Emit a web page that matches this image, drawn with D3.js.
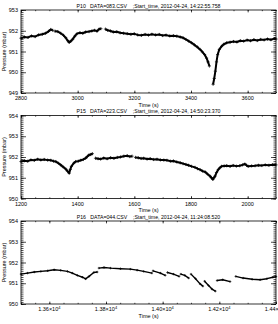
<!DOCTYPE html>
<html>
<head>
<meta charset="utf-8">
<script src="https://cdn.jsdelivr.net/npm/d3@7"></script>
<style>
  body { margin: 0; background: #fff; }
  svg text { font-family: "Liberation Sans", Arial, sans-serif; fill: #000; }
</style>
</head>
<body>
<div id="draw"></div>
<script>
// panel titles and axis setup
var titles = [
    "P10   DATA=083.CSV    ;Start_time, 2012-04-24, 14:22:55.758",
    "P15   DATA=223.CSV    ;Start_time, 2012-04-24, 14:50:23.370",
    "P16   DATA=044.CSV    ;Start_time, 2012-04-24, 11:24:08.520"
];
var xDomains = [[2800, 3700], [1200, 2100], [13500, 14400]];
var yDomains = [[949, 953], [950, 954], [950, 954]];
var xTickValues = [
    [2800, 3000, 3200, 3400, 3600],
    [1200, 1400, 1600, 1800, 2000],
    [13600, 13800, 14000, 14200, 14400]
];
var yTickValues = [
    [949, 950, 951, 952, 953],
    [950, 951, 952, 953, 954],
    [950, 951, 952, 953, 954]
];

// pressure records [time (s), mbar]; null marks a break in the record
var p10 = [
    [2800, 951.64], [2812, 951.70], [2825, 951.68], [2837, 951.75], [2850, 951.72],
    [2862, 951.80], [2875, 951.83], [2887, 951.88], [2897, 951.97], [2905, 952.06],
    [2912, 952.02], [2916, null], [2920, 951.98], [2930, 951.96], [2940, 951.88],
    [2950, 951.78], [2958, 951.66], [2965, 951.52], [2970, 951.44], [2976, 951.50],
    [2983, 951.60], [2990, 951.74], [2998, 951.86], [3008, 951.90], [3018, 951.88],
    [3028, 951.94], [3040, 951.96], [3050, 951.99], [3060, 952.02], [3068, 951.98],
    [3076, 952.08], [3082, 952.10], [3090, null], [3098, 952.08], [3106, 952.02],
    [3116, 951.99], [3126, 951.94], [3138, 951.95], [3150, 951.90], [3162, 951.88],
    [3175, 951.86], [3188, 951.83], [3200, 951.85], [3212, 951.80], [3225, 951.78],
    [3238, 951.82], [3250, 951.79], [3262, 951.83], [3275, 951.80], [3288, 951.82],
    [3300, 951.77], [3312, 951.79], [3325, 951.75], [3338, 951.76], [3350, 951.74],
    [3362, 951.70], [3372, 951.66], [3382, 951.58], [3392, 951.50], [3402, 951.42],
    [3412, 951.32], [3422, 951.22], [3432, 951.10], [3440, 950.98], [3448, 950.85],
    [3455, 950.68], [3460, 950.50], [3465, 950.30], [3470, null], [3478, 949.42],
    [3482, 949.70], [3486, 950.05], [3490, 950.50], [3494, 950.85], [3500, 951.10],
    [3508, 951.25], [3516, 951.35], [3526, 951.42], [3538, 951.45], [3550, 951.48],
    [3562, 951.46], [3574, 951.52], [3586, 951.50], [3598, 951.55], [3610, 951.52],
    [3622, 951.57], [3634, 951.53], [3646, 951.58], [3658, 951.56], [3670, 951.60],
    [3682, 951.57], [3694, 951.62], [3700, 951.60]
];
var p15 = [
    [1200, 951.78], [1212, 951.82], [1224, 951.80], [1235, 951.86], [1247, 951.84],
    [1259, 951.89], [1270, 951.86], [1282, 951.88], [1294, 951.85], [1305, 951.84],
    [1315, 951.80], [1323, 951.78], [1332, 951.70], [1340, 951.62], [1349, 951.52],
    [1358, 951.42], [1364, 951.32], [1370, 951.22], [1374, 951.40], [1378, 951.55],
    [1386, 951.70], [1393, 951.78], [1402, 951.80], [1411, 951.84], [1420, 951.88],
    [1428, 951.94], [1434, 952.02], [1440, 952.10], [1446, 952.12], [1452, 952.16],
    [1458, null], [1463, 951.94], [1472, 951.92], [1481, 951.90], [1492, 951.95],
    [1504, 951.92], [1516, 951.96], [1528, 951.94], [1540, 951.98], [1551, 952.00],
    [1563, 952.04], [1575, 952.06], [1584, 952.02], [1592, 952.04], [1598, null],
    [1604, 951.98], [1614, 951.96], [1624, 951.93], [1633, 951.94], [1645, 951.90],
    [1656, 951.92], [1668, 951.88], [1680, 951.89], [1692, 951.86], [1704, 951.85],
    [1715, 951.84], [1727, 951.80], [1738, 951.81], [1750, 951.76], [1762, 951.72],
    [1772, 951.68], [1782, 951.64], [1791, 951.60], [1802, 951.55], [1814, 951.50],
    [1823, 951.44], [1832, 951.39], [1841, 951.32], [1850, 951.28], [1858, 951.18],
    [1867, 951.08], [1872, 951.00], [1877, 950.92], [1881, 951.00], [1885, 951.08],
    [1890, 951.25], [1896, 951.39], [1902, 951.48], [1908, 951.55], [1917, 951.57],
    [1926, 951.58], [1938, 951.55], [1949, 951.59], [1960, 951.56], [1972, 951.58],
    [1982, 951.62], [1990, 951.66], [1996, 951.60], [2002, 951.55], [2014, 951.57],
    [2026, 951.58], [2038, 951.60], [2050, 951.59], [2062, 951.62], [2075, 951.60],
    [2088, 951.63], [2100, 951.62]
];
var p16 = [
    [13500, 951.44], [13523, 951.49], [13547, 951.54], [13570, 951.57], [13594, 951.60],
    [13617, 951.65], [13640, 951.62], [13664, 951.57], [13681, 951.49], [13699, 951.38],
    [13717, 951.29], [13728, 951.21], [13740, 951.33], [13757, 951.52], [13769, 951.54],
    [13772, null],
    [13775, 951.73], [13793, 951.76], [13816, 951.73], [13851, 951.70], [13886, 951.68],
    [13910, 951.63], [13933, 951.57], [13962, 951.49], [13964, null],
    [13966, 951.60], [13992, 951.49], [14009, 951.38], [14013, null],
    [14017, 951.52], [14038, 951.44], [14058, 951.33], [14061, null],
    [14064, 951.44], [14078, 951.38], [14092, 951.25], [14096, null],
    [14100, 951.44], [14116, 951.22], [14132, 950.97], [14142, 950.86], [14145, null],
    [14148, 951.10], [14162, 950.89], [14174, 950.72], [14186, 950.62], [14188, null],
    [14192, 951.13], [14212, 951.17], [14238, 951.08], [14248, null],
    [14258, 951.33], [14284, 951.25], [14316, 951.19], [14344, 951.17], [14368, 951.22],
    [14389, 951.29], [14400, 951.32]
];
var series = [p10, p15, p16];

var width = 278,
    height = 324,
    left = 21,
    right = 276,
    panelTop = 10,
    panelStep = 105.5,
    panelHeight = 83;

var svg = d3.select('#draw').append('svg')
    .attr('width', width)
    .attr('height', height);

function sciLabel(sel, v) {
    // 13600 -> 1.36x10^4
    var m = (v / 10000).toFixed(2);
    sel.text(m + '\u00d710');
    sel.append('tspan').attr('dy', -2.5).attr('font-size', '4px').text('4');
}

series.forEach(function (data, i) {
    var top = panelTop + i * panelStep,
        bottom = top + panelHeight,
        g = svg.append('g');

    var x = d3.scaleLinear().domain(xDomains[i]).range([left, right]),
        y = d3.scaleLinear().domain(yDomains[i]).range([bottom, top]);

    var xMinor = d3.range(xDomains[i][0], xDomains[i][1] + 1, 50),
        yMinor = d3.range(yDomains[i][0] * 10, yDomains[i][1] * 10 + 1).map(function (d) { return d / 10; });

    // inward ticks on all four sides
    function ticks(axis, vals, size) {
        return axis.tickValues(vals).tickSize(size).tickFormat('');
    }
    var layers = [
        [d3.axisBottom(x), xMinor, -1.2, bottom],
        [d3.axisBottom(x), xTickValues[i], -2.4, bottom],
        [d3.axisTop(x), xMinor, -1.2, top],
        [d3.axisTop(x), xTickValues[i], -2.4, top]
    ];
    layers.forEach(function (l) {
        g.append('g').attr('transform', 'translate(0,' + l[3] + ')')
            .call(ticks(l[0], l[1], l[2]))
            .call(function (s) { s.select('.domain').remove(); });
    });
    var ylayers = [
        [d3.axisLeft(y), yMinor, -2.5, left],
        [d3.axisLeft(y), yTickValues[i], -5, left],
        [d3.axisRight(y), yMinor, -2.5, right],
        [d3.axisRight(y), yTickValues[i], -5, right]
    ];
    ylayers.forEach(function (l) {
        g.append('g').attr('transform', 'translate(' + l[3] + ',0)')
            .call(ticks(l[0], l[1], l[2]))
            .call(function (s) { s.select('.domain').remove(); });
    });
    g.selectAll('.tick line').attr('stroke', '#000').attr('stroke-width', 0.7);

    // frame
    g.append('rect')
        .attr('x', left).attr('y', top)
        .attr('width', right - left).attr('height', bottom - top)
        .attr('fill', 'none').attr('stroke', '#000').attr('stroke-width', 0.8);

    // tick labels
    g.selectAll('.xl').data(xTickValues[i]).enter().append('text')
        .attr('x', function (d) { return x(d); })
        .attr('y', bottom + 7)
        .attr('text-anchor', 'middle')
        .attr('font-size', '5.5px')
        .each(function (d) {
            if (i === 2) {
                sciLabel(d3.select(this), d);
            } else {
                d3.select(this).text(d);
            }
        });
    g.selectAll('.yl').data(yTickValues[i]).enter().append('text')
        .attr('x', left - 3)
        .attr('y', function (d) { return y(d) + 2; })
        .attr('text-anchor', 'end')
        .attr('font-size', '5.5px')
        .text(function (d) { return d; });

    g.append('text')
        .attr('x', (left + right) / 2).attr('y', bottom + 13.5)
        .attr('text-anchor', 'middle').attr('font-size', '5.5px')
        .text('Time (s)');
    g.append('text')
        .attr('transform', 'translate(6,' + (top + bottom) / 2 + ') rotate(-90)')
        .attr('text-anchor', 'middle').attr('font-size', '5.5px')
        .text('Pressure (mbar)');
    g.append('text')
        .attr('x', (left + right) / 2).attr('y', top - 2.5)
        .attr('text-anchor', 'middle').attr('font-size', '5.2px')
        .attr('xml:space', 'preserve')
        .style('white-space', 'pre')
        .text(titles[i]);

    // the record itself: a line plus a small cross at every sample
    var line = d3.line()
        .defined(function (d) { return d[1] !== null; })
        .x(function (d) { return x(d[0]); })
        .y(function (d) { return y(d[1]); });
    g.append('path')
        .datum(data)
        .attr('d', line)
        .attr('fill', 'none')
        .attr('stroke', '#000')
        .attr('stroke-width', i === 2 ? 1.4 : 2)
        .attr('stroke-linejoin', 'round');
    var c = i === 2 ? 1.2 : 1.6;
    g.selectAll('.pt')
        .data(data.filter(function (d) { return d[1] !== null; }))
        .enter().append('path')
        .attr('transform', function (d) { return 'translate(' + x(d[0]) + ',' + y(d[1]) + ')'; })
        .attr('d', 'M' + (-c) + ',0H' + c + 'M0,' + (-c) + 'V' + c)
        .attr('stroke', '#000')
        .attr('stroke-width', 0.7);
});
</script>
</body>
</html>
